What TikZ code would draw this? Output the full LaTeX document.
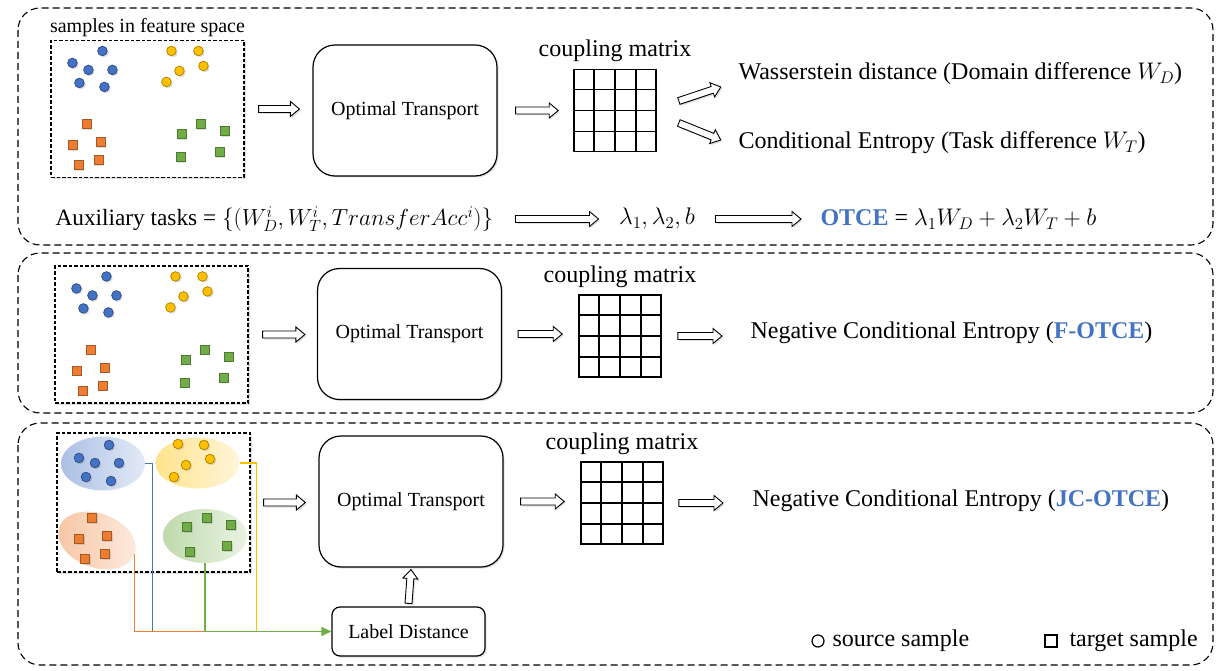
\RequirePackage{fix-cm}
\documentclass[tikz,border=0pt]{standalone}
\usepackage{fontspec}
\setmainfont{Liberation Serif}
\usetikzlibrary{positioning,calc,shapes.geometric,arrows.meta,shadows}
\definecolor{cblue}{HTML}{4472C4}
\definecolor{cyel}{HTML}{FFC000}
\definecolor{cora}{HTML}{ED7D31}
\definecolor{cgre}{HTML}{70AD47}
\newcommand{\fmid}{\fontsize{20}{24}\selectfont}
\newcommand{\fbig}{\fontsize{24}{28}\selectfont}
\newcommand{\otce}[1]{\textcolor{cblue}{\textbf{#1}}}
\newcommand{\cgrid}[1]{%
  \foreach \i in {1,2,3} {
    \draw[line width=1.6pt] ($(#1.north west)!\i/4!(#1.north east)$) -- ($(#1.south west)!\i/4!(#1.south east)$);
    \draw[line width=1.6pt] ($(#1.north west)!\i/4!(#1.south west)$) -- ($(#1.north east)!\i/4!(#1.south east)$);
  }}
\newcommand{\clusters}{%
  \foreach \x/\y in {52/11,22/23,38/30,62/30,29/43,54/47} \filldraw[dot=cblue] (\x,\y) circle[radius=4.8pt];
  \foreach \x/\y in {121/11,148/11,153/26,129/31,116/42} \filldraw[dot=cyel] (\x,\y) circle[radius=4.8pt];
  \foreach \x/\y in {36/84,22/105,50/102,28/125,48/120} \filldraw[dot=cora] (\x,\y) +(-4.5,-4.5) rectangle +(4.5,4.5);
  \foreach \x/\y in {150/84,131/94,174/91,130/117,169/112} \filldraw[dot=cgre] (\x,\y) +(-4.5,-4.5) rectangle +(4.5,4.5);
}
\tikzset{
  shd/.style={drop shadow={opacity=0.25,shadow xshift=1.5pt,shadow yshift=-1.5pt}},
  panel/.style={draw, line width=1.1pt, dash pattern=on 7pt off 4pt, rounded corners=22pt},
  featbox/.style={draw, fill=white, shd, line width=1.1pt, dash pattern=on 3.5pt off 2pt, minimum width=193pt, minimum height=137pt, inner sep=0pt},
  otbox/.style={draw, fill=white, shd, line width=1.2pt, rounded corners=22pt, minimum width=184pt, minimum height=131pt, font=\fmid},
  matbox/.style={draw, fill=white, line width=1.6pt, minimum width=82pt, minimum height=82pt, inner sep=0pt},
  dot/.style={fill=#1, draw=#1!70!black, line width=0.8pt, shd},
  blob/.style={ellipse, minimum width=84pt, minimum height=54pt, left color=#1!45, right color=#1!15},
  fat/.style={draw, fill=white, line width=0.9pt, shd, to path={
    ($(\tikztotarget)!9pt!(\tikztostart)$) coordinate (fm)
    ($(\tikztostart)!3.5pt!90:(\tikztotarget)$) -- ($(fm)!3.5pt!90:(\tikztotarget)$) -- ($(fm)!7.5pt!90:(\tikztotarget)$)
    -- (\tikztotarget) -- ($(fm)!7.5pt!-90:(\tikztotarget)$) -- ($(fm)!3.5pt!-90:(\tikztotarget)$)
    -- ($(\tikztostart)!3.5pt!-90:(\tikztotarget)$) -- cycle}},
}
\begin{document}
\begin{tikzpicture}[x=1pt,y=-1pt]
  \useasboundingbox (0,0) rectangle (1226,671);
  \draw[panel] (18,8) rectangle (1213,245);
  \draw[panel] (18,253) rectangle (1213,413);
  \draw[panel] (18,423) rectangle (1213,665);

  \node[featbox] (feat1) at (147.5,109) {};
  \node[above=0pt of feat1, font=\fmid] (feattxt) {samples in feature space};
  \begin{scope}[shift={(feat1.north west)}] \clusters \end{scope}
  \node[otbox] (ot1) at (405,110.5) {Optimal Transport};
  \node[matbox] (cm1) at (615,110.5) {};
  \cgrid{cm1}
  \node[above=3pt of cm1, font=\fbig] (cmtxt1) {coupling matrix};
  \node[anchor=west, font=\fbig] (wd) at (735,74) {Wasserstein distance (Domain difference $W_D$)};
  \node[anchor=west, font=\fbig] (wt) at (735,143) {Conditional Entropy (Task difference $W_T$)};
  \node[anchor=west, font=\fontsize{23.3}{28}\selectfont] (aux) at (52,219) {Auxiliary tasks = $\{\bigl(W_D^i, W_T^i, TransferAcc^i\bigr)\}$};
  \node[font=\fbig] (lam) at (657,219) {$\lambda_1, \lambda_2, b$};
  \node[anchor=west, font=\fbig] (otce) at (817,219) {\otce{OTCE} = $\lambda_1 W_D + \lambda_2 W_T + b$};
  \draw[fat] ([xshift=14pt]feat1.east) to ([xshift=-13pt]feat1.east -| ot1.west);
  \draw[fat] ([xshift=18pt]ot1.east) to ([xshift=-15pt]ot1.east -| cm1.west);
  \draw[fat] ([shift={(22,-9.5)}]cm1.east) to ([shift={(64,-23.5)}]cm1.east);
  \draw[fat] ([shift={(22,12.5)}]cm1.east) to ([shift={(64,29.5)}]cm1.east);
  \draw[fat] ([xshift=-100pt]lam.west) to ([xshift=-17pt]lam.west);
  \draw[fat] ([xshift=17pt]lam.east) to ([xshift=-16pt]lam.east -| otce.west);

  \node[featbox] (feat2) at (151.5,334.5) {};
  \begin{scope}[shift={(feat2.north west)}] \clusters \end{scope}
  \node[otbox] (ot2) at (409.5,334) {Optimal Transport};
  \node[matbox] (cm2) at (620,336) {};
  \cgrid{cm2}
  \node[above=3pt of cm2, font=\fbig] (cmtxt2) {coupling matrix};
  \node[anchor=west, font=\fbig] (nce2) at (747,333) {Negative Conditional Entropy (\otce{F-OTCE})};
  \draw[fat] ([xshift=14pt]feat2.east) to ([xshift=-12pt]feat2.east -| ot2.west);
  \draw[fat] ([xshift=16pt]ot2.east) to ([xshift=-16pt]ot2.east -| cm2.west);
  \draw[fat] ([xshift=16pt]cm2.east) to ([xshift=-25pt]cm2.east -| nce2.west);

  \node[featbox, minimum height=139pt] (feat3) at (153.5,502.5) {};
  \node[blob=cblue] (bluset) at (103,463.5) {};
  \node[blob=cyel, minimum height=51pt] (yelset) at (197.5,463) {};
  \node[blob=cora, minimum width=80pt, rotate=-20] (oraset) at (97,540.5) {};
  \node[blob=cgre] (greset) at (205,536) {};
  \foreach \x/\y in {109/445,79/458,95/463,119/463,86/477,111/481} \filldraw[dot=cblue] (\x,\y) circle[radius=4.8pt];
  \foreach \x/\y in {178/444,204/445,210/459,186/465,174/477} \filldraw[dot=cyel] (\x,\y) circle[radius=4.8pt];
  \foreach \x/\y in {92/518,79/539,107/536,85/559,105/554} \filldraw[dot=cora] (\x,\y) +(-4.5,-4.5) rectangle +(4.5,4.5);
  \foreach \x/\y in {207/518,187/527,231/525,190/552,227/546} \filldraw[dot=cgre] (\x,\y) +(-4.5,-4.5) rectangle +(4.5,4.5);
  \node[otbox] (ot3) at (411,501.5) {Optimal Transport};
  \node[matbox] (cm3) at (622,503) {};
  \cgrid{cm3}
  \node[above=3pt of cm3, font=\fbig] (cmtxt3) {coupling matrix};
  \node[anchor=west, font=\fbig] (nce3) at (749,501) {Negative Conditional Entropy (\otce{JC-OTCE})};
  \node[draw, fill=white, shd, rounded corners=8pt, line width=1.2pt, minimum width=153pt, minimum height=49pt, font=\fmid] (lab) at (408.5,631.5) {Label Distance};
  \draw[cblue, line width=1.2pt] (bluset.east) -- ++(7,0) |- (lab.west);
  \draw[cyel, line width=1.2pt] (yelset.east) -- ++(17,0) |- (lab.west);
  \draw[cora, line width=1.2pt] (oraset.east) |- (lab.west);
  \draw[cgre, line width=1.2pt, -{Triangle[length=10pt,width=9pt]}] (greset.south) |- (lab.west);
  \draw[fat] ([xshift=13pt]feat3.east) to ([xshift=-13pt]feat3.east -| ot3.west);
  \draw[fat] ([xshift=17pt]ot3.east) to ([xshift=-16pt]ot3.east -| cm3.west);
  \draw[fat] ([xshift=15pt]cm3.east) to ([xshift=-26pt]cm3.east -| nce3.west);
  \draw[fat] ([yshift=3pt]lab.north) to ([yshift=-2pt]ot3.south);

  \draw[line width=1.2pt] (818,641) circle[radius=6pt];
  \node[anchor=west, font=\fbig] (srcleg) at (829,641) {source sample};
  \draw[line width=1.2pt] (1045,635) rectangle (1057,647);
  \node[anchor=west, font=\fbig] (tgtleg) at (1066,641) {target sample};
\end{tikzpicture}
\end{document}
